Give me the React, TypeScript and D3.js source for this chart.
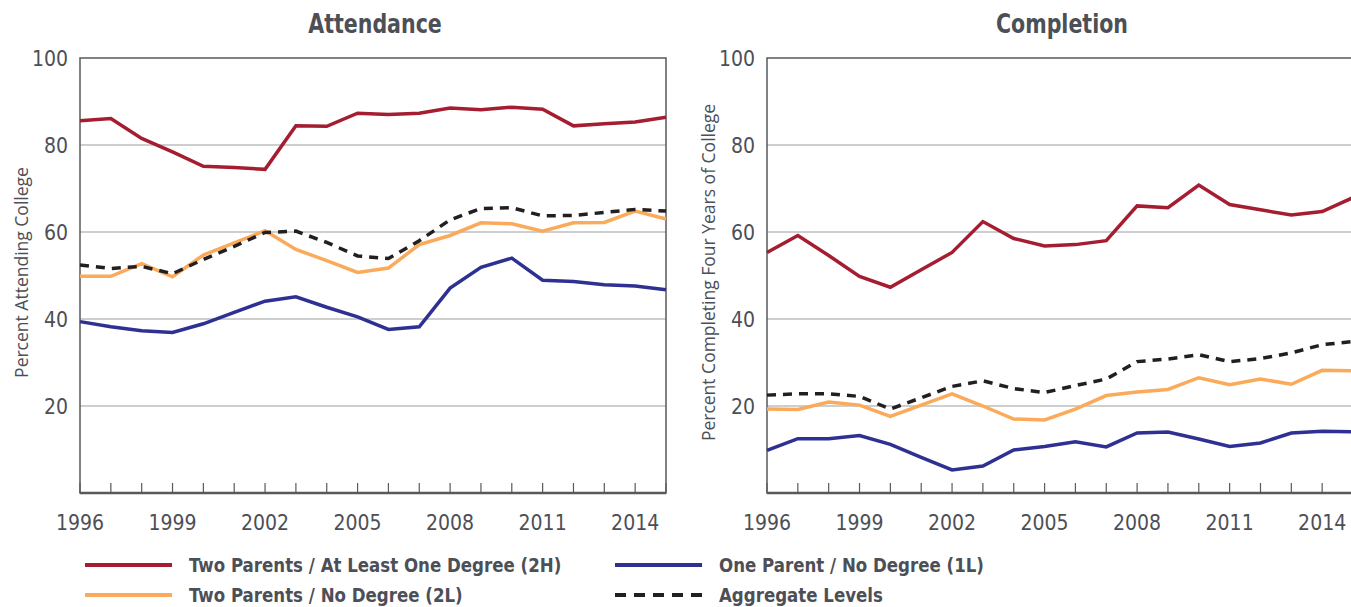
import React, { useEffect, useRef } from 'react';
import * as d3 from 'd3';

const years = [1996, 1997, 1998, 1999, 2000, 2001, 2002, 2003, 2004, 2005, 2006, 2007, 2008, 2009, 2010, 2011, 2012, 2013, 2014, 2015];
const yearLabels = [1996, 1999, 2002, 2005, 2008, 2011, 2014];
const yTicks = [20, 40, 60, 80, 100];

// Attendance
const attend2H = [85.6, 86.1, 81.5, 78.4, 75.1, 74.8, 74.4, 84.4, 84.3, 87.3, 87.0, 87.3, 88.5, 88.1, 88.7, 88.2, 84.4, 84.9, 85.3, 86.4];
const attend2L = [49.8, 49.8, 52.7, 49.7, 54.7, 57.5, 60.3, 56.0, 53.4, 50.7, 51.7, 57.1, 59.2, 62.1, 61.9, 60.2, 62.1, 62.2, 64.8, 63.0];
const attend1L = [39.4, 38.2, 37.3, 36.9, 38.9, 41.5, 44.1, 45.1, 42.7, 40.5, 37.6, 38.2, 47.1, 51.9, 54.0, 48.9, 48.6, 47.9, 47.6, 46.7];
const attendAgg = [52.4, 51.6, 52.1, 50.4, 53.7, 56.7, 59.9, 60.2, 57.6, 54.5, 53.9, 58.0, 62.8, 65.4, 65.6, 63.7, 63.8, 64.5, 65.2, 64.8];

// Completion
const compl2H = [55.3, 59.2, 54.6, 49.8, 47.3, 51.3, 55.3, 62.4, 58.5, 56.8, 57.1, 58.0, 66.0, 65.6, 70.8, 66.3, 65.1, 63.9, 64.7, 67.9];
const compl2L = [19.3, 19.2, 20.9, 20.2, 17.6, 20.2, 22.8, 20.0, 17.0, 16.8, 19.3, 22.4, 23.2, 23.8, 26.5, 24.9, 26.2, 25.0, 28.2, 28.1];
const compl1L = [9.8, 12.5, 12.5, 13.2, 11.2, 8.2, 5.3, 6.2, 9.9, 10.7, 11.8, 10.6, 13.8, 14.0, 12.4, 10.7, 11.5, 13.8, 14.2, 14.1];
const complAgg = [22.5, 22.8, 22.8, 22.2, 19.3, 21.9, 24.5, 25.8, 24.0, 23.1, 24.7, 26.2, 30.2, 30.8, 31.8, 30.2, 30.9, 32.2, 34.1, 34.8];

const RED = '#a51d30';
const BLUE = '#2e3192';
const ORANGE = '#fbaa5a';
const BLACK = '#231f20';
const TEXT = '#4d4f57';
const FRAME = '#58595b';

const narrow = '"Liberation Sans Narrow", "DejaVu Sans Condensed", sans-serif';

const App = () => {
  const ref = useRef<SVGSVGElement>(null);

  useEffect(() => {
    const svg = d3.select(ref.current);
    svg.selectAll('*').remove();

    const top = 58, bottom = 493, w = 586;

    const drawPanel = (left: number, title: string, yTitle: string, series: any[]) => {
      const x = d3.scaleLinear().domain([years[0], years[years.length - 1]]).range([left, left + w]);
      const y = d3.scaleLinear().domain([0, 100]).range([bottom, top]);
      const g = svg.append('g');

      // gridlines
      g.selectAll('line.grid')
        .data(yTicks.filter(t => t < 100))
        .enter().append('line')
        .attr('x1', left).attr('x2', left + w)
        .attr('y1', d => y(d)).attr('y2', d => y(d))
        .attr('stroke', '#bcbec0').attr('stroke-width', 1.5);

      // x ticks (inside, upward)
      g.selectAll('line.xt')
        .data(years)
        .enter().append('line')
        .attr('x1', d => x(d)).attr('x2', d => x(d))
        .attr('y1', bottom).attr('y2', bottom - 10)
        .attr('stroke', FRAME).attr('stroke-width', 1.2);

      // frame
      g.append('rect')
        .attr('x', left).attr('y', top)
        .attr('width', w).attr('height', bottom - top)
        .attr('fill', 'none').attr('stroke', FRAME).attr('stroke-width', 1.5);
      g.append('line')
        .attr('x1', left).attr('x2', left + w)
        .attr('y1', bottom).attr('y2', bottom)
        .attr('stroke', FRAME).attr('stroke-width', 2.5);

      // y tick labels
      g.selectAll('text.yl')
        .data(yTicks)
        .enter().append('text')
        .attr('x', left - 12).attr('y', d => y(d))
        .attr('dy', '0.36em')
        .attr('text-anchor', 'end')
        .attr('font-family', narrow).attr('font-size', 21)
        .attr('fill', TEXT)
        .text(d => d);

      // x tick labels
      g.selectAll('text.xl')
        .data(yearLabels)
        .enter().append('text')
        .attr('x', d => x(d)).attr('y', bottom + 37)
        .attr('text-anchor', 'middle')
        .attr('font-family', narrow).attr('font-size', 21)
        .attr('fill', TEXT)
        .text(d => d);

      // title
      g.append('text')
        .attr('transform', `translate(${left + w / 2 + 2},33) scale(0.88,1)`)
        .attr('text-anchor', 'middle')
        .attr('font-family', narrow).attr('font-weight', 'bold').attr('font-size', 26)
        .attr('fill', TEXT)
        .text(title);

      // y title
      g.append('text')
        .attr('transform', `translate(${left - 52},${(top + bottom) / 2 - 3}) rotate(-90)`)
        .attr('text-anchor', 'middle')
        .attr('font-family', '"Open Sans", sans-serif').attr('font-size', 17.5)
        .attr('fill', TEXT)
        .text(yTitle);

      const line = d3.line<number>()
        .x((_, i) => x(years[i]))
        .y(d => y(d));

      series.forEach(s => {
        g.append('path')
          .datum(s.values)
          .attr('d', line)
          .attr('fill', 'none')
          .attr('stroke', s.color)
          .attr('stroke-width', 3.5)
          .attr('stroke-dasharray', s.dash ? '9,7' : null);
      });
    };

    drawPanel(80, 'Attendance', 'Percent Attending College', [
      { values: attend2L, color: ORANGE },
      { values: attendAgg, color: BLACK, dash: true },
      { values: attend1L, color: BLUE },
      { values: attend2H, color: RED },
    ]);
    drawPanel(767, 'Completion', 'Percent Completing Four Years of College', [
      { values: compl2L, color: ORANGE },
      { values: complAgg, color: BLACK, dash: true },
      { values: compl1L, color: BLUE },
      { values: compl2H, color: RED },
    ]);

    // legend
    const legendItems = [
      { label: 'Two Parents / At Least One Degree (2H)', color: RED, dash: false, lx: 85, ly: 565 },
      { label: 'One Parent / No Degree (1L)', color: BLUE, dash: false, lx: 615, ly: 565 },
      { label: 'Two Parents / No Degree (2L)', color: ORANGE, dash: false, lx: 85, ly: 595 },
      { label: 'Aggregate Levels', color: BLACK, dash: true, lx: 615, ly: 595 },
    ];
    const lg = svg.append('g');
    legendItems.forEach(it => {
      lg.append('line')
        .attr('x1', it.lx).attr('x2', it.lx + 87)
        .attr('y1', it.ly).attr('y2', it.ly)
        .attr('stroke', it.color).attr('stroke-width', 4)
        .attr('stroke-dasharray', it.dash ? '11,8' : null);
      lg.append('text')
        .attr('transform', `translate(${it.lx + 104},${it.ly}) scale(0.925,1)`)
        .attr('dy', '0.36em')
        .attr('font-family', narrow).attr('font-weight', 'bold').attr('font-size', 20)
        .attr('fill', TEXT)
        .text(it.label);
    });
  }, []);

  return (
    <svg ref={ref} width={1351} height={607}
      style={{ position: 'absolute', left: 0, top: 0, background: '#fff' }} />
  );
};

export default App;
